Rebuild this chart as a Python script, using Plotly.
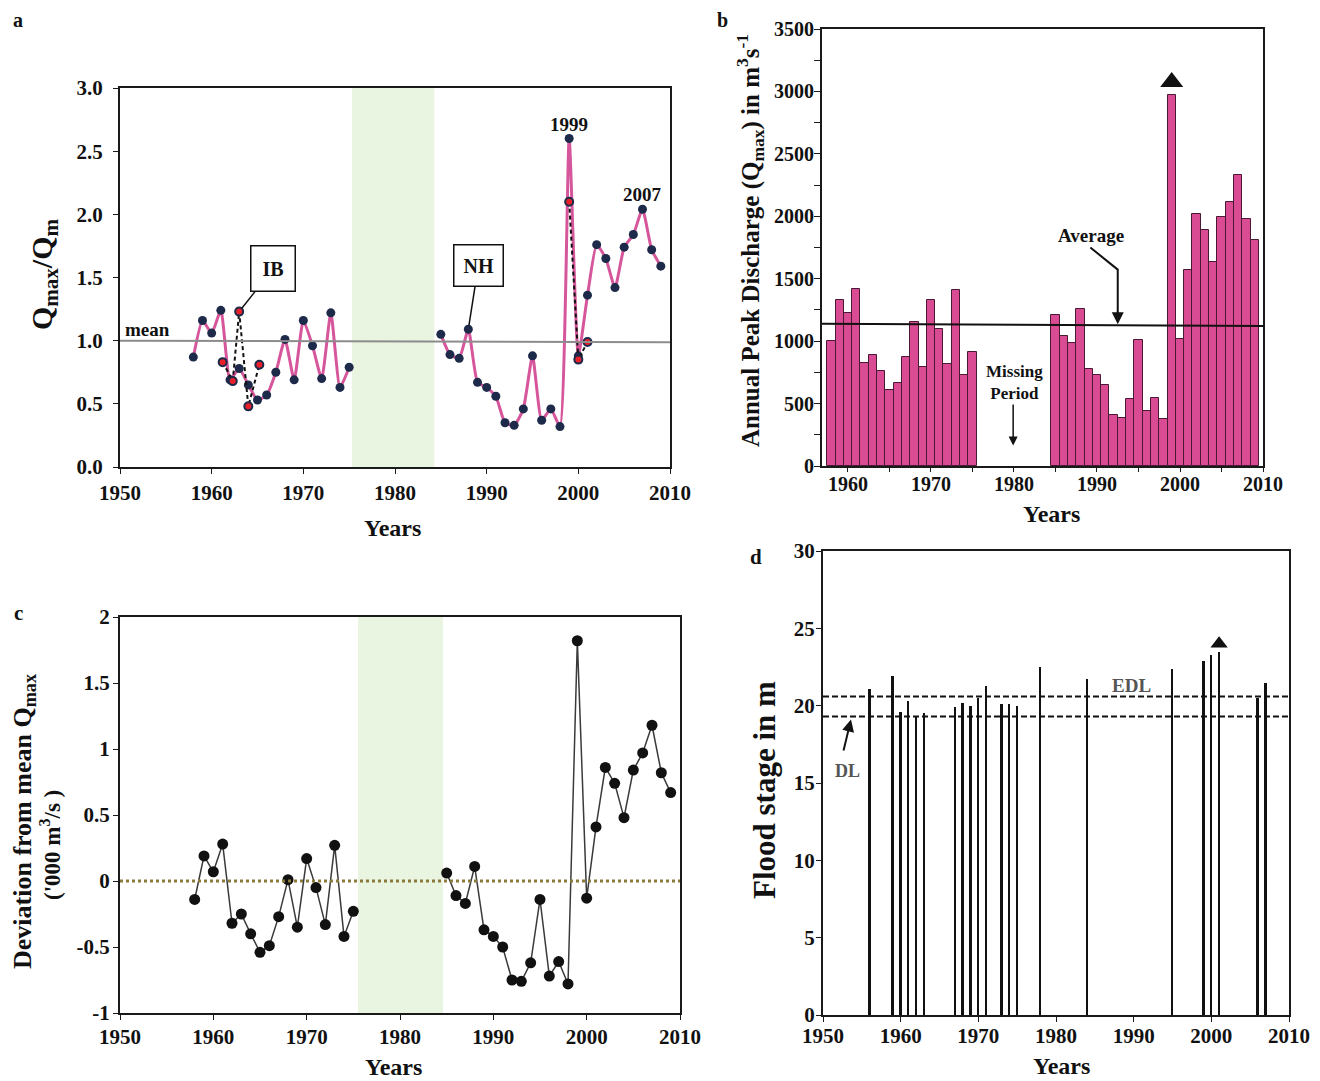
import plotly.graph_objects as go

W, H = 1320, 1081
OFF = 8  # page body margin offset
FONT = "Liberation Serif"

# ---------------- Panel a data ----------------
years_a1 = [1958, 1959, 1960, 1961, 1962, 1963, 1964, 1965, 1966, 1967, 1968,
            1969, 1970, 1971, 1972, 1973, 1974, 1975]
ratio_a1 = [0.87, 1.16, 1.06, 1.24, 0.69, 0.78, 0.65, 0.53, 0.57, 0.75, 1.01,
            0.69, 1.16, 0.96, 0.70, 1.22, 0.63, 0.79]
years_a2 = [1985, 1986, 1987, 1988, 1989, 1990, 1991, 1992, 1993, 1994, 1995,
            1996, 1997, 1998, 1999, 2000, 2001, 2002, 2003, 2004, 2005, 2006,
            2007, 2008, 2009]
ratio_a2 = [1.05, 0.89, 0.86, 1.09, 0.67, 0.63, 0.56, 0.35, 0.33, 0.46, 0.88,
            0.37, 0.46, 0.32, 2.60, 0.88, 1.36, 1.76, 1.65, 1.42, 1.74, 1.84,
            2.04, 1.72, 1.59]
alt_years_1 = [1961.2, 1962.3, 1963, 1964, 1965.2]
alt_ratio_1 = [0.83, 0.68, 1.23, 0.48, 0.81]
alt_years_2 = [1999, 2000, 2001]
alt_ratio_2 = [2.10, 0.85, 0.99]

# ---------------- Panel b data ----------------
years_b = [1958, 1959, 1960, 1961, 1962, 1963, 1964, 1965, 1966, 1967, 1968,
           1969, 1970, 1971, 1972, 1973, 1974, 1975,
           1985, 1986, 1987, 1988, 1989, 1990, 1991, 1992, 1993, 1994, 1995,
           1996, 1997, 1998, 1999, 2000, 2001, 2002, 2003, 2004, 2005, 2006,
           2007, 2008, 2009]
qmax_b = [1003, 1332, 1223, 1418, 822, 891, 760, 607, 661, 870, 1153,
          795, 1330, 1097, 813, 1407, 728, 910,
          1207, 1038, 985, 1258, 779, 728, 648, 409, 385, 538, 1009,
          439, 543, 377, 2970, 1019, 1568, 2020, 1892, 1632, 1993, 2114,
          2330, 1980, 1814]
avg_b = [1140, 1122]  # average line (left end, right end)

# ---------------- Panel c data ----------------
years_c = [1958, 1959, 1960, 1961, 1962, 1963, 1964, 1965, 1966, 1967, 1968,
           1969, 1970, 1971, 1972, 1973, 1974, 1975, None,
           1985, 1986, 1987, 1988, 1989, 1990, 1991, 1992, 1993, 1994, 1995,
           1996, 1997, 1998, 1999, 2000, 2001, 2002, 2003, 2004, 2005, 2006,
           2007, 2008, 2009]
dev_c = [-0.14, 0.19, 0.07, 0.28, -0.32, -0.25, -0.40, -0.54, -0.49, -0.27, 0.01,
         -0.35, 0.17, -0.05, -0.33, 0.27, -0.42, -0.23, None,
         0.06, -0.11, -0.17, 0.11, -0.37, -0.42, -0.50, -0.75, -0.76, -0.62, -0.14,
         -0.72, -0.61, -0.78, 1.82, -0.13, 0.41, 0.86, 0.74, 0.48, 0.84, 0.97,
         1.18, 0.82, 0.67]

# ---------------- Panel d data ----------------
years_d = [1956, 1959, 1960, 1961, 1962, 1963, 1967, 1968, 1969, 1970, 1971,
           1973, 1974, 1975, 1978, 1984, 1995, 1999, 2000, 2001, 2006, 2007]
stage_d = [21.1, 21.9, 19.6, 20.3, 19.3, 19.5, 19.9, 20.2, 20.0, 20.5, 21.3,
           20.1, 20.1, 20.0, 22.5, 21.75, 22.4, 22.9, 23.3, 23.5, 20.5, 21.45]
EDL = 20.6
DL = 19.3

missing_period = [1975.3, 1984.3]

PINK = "#d6569b"
NAVY = "#1d2a4a"
BARPINK = "#d94c93"
GREEN = "#e9f4e1"


def px_x(p):
    return (p - OFF) / W


def px_y(p):
    return 1 - (p - OFF) / H


fig = go.Figure()

# ---- panel a ----
fig.add_trace(go.Scatter(
    x=years_a1 + [None] + years_a2, y=ratio_a1 + [None] + ratio_a2,
    mode="lines", line=dict(color=PINK, width=3, shape="spline", smoothing=0.5),
    connectgaps=False, xaxis="x", yaxis="y", showlegend=False, hoverinfo="skip"))
fig.add_trace(go.Scatter(
    x=years_a1 + years_a2, y=ratio_a1 + ratio_a2, mode="markers",
    marker=dict(color=NAVY, size=9), xaxis="x", yaxis="y", showlegend=False))
fig.add_trace(go.Scatter(
    x=alt_years_1 + [None] + alt_years_2, y=alt_ratio_1 + [None] + alt_ratio_2,
    mode="lines+markers", line=dict(color="#111", width=2, dash="4px,3px"),
    marker=dict(color="#e8202a", size=8, line=dict(color=NAVY, width=2)),
    connectgaps=False, xaxis="x", yaxis="y", showlegend=False))

# ---- panel b ----
fig.add_trace(go.Bar(
    x=years_b, y=qmax_b, width=1.0,
    marker=dict(color=BARPINK, line=dict(color="#4a1a35", width=1)),
    xaxis="x2", yaxis="y2", showlegend=False))
fig.add_trace(go.Scatter(
    x=[1999], y=[3075], mode="markers",
    marker=dict(symbol="triangle-up", size=20, color="#111"),
    xaxis="x2", yaxis="y2", showlegend=False))

# ---- panel c ----
fig.add_trace(go.Scatter(
    x=years_c, y=dev_c, mode="lines+markers", connectgaps=False,
    line=dict(color="#3a3a3a", width=1.5),
    marker=dict(color="#111", size=11),
    xaxis="x3", yaxis="y3", showlegend=False))

# ---- panel d ----
fig.add_trace(go.Bar(
    x=years_d, y=stage_d, width=0.25, marker=dict(color="#111", line=dict(width=0)),
    xaxis="x4", yaxis="y4", showlegend=False))
fig.add_trace(go.Scatter(
    x=[2001], y=[24.0], mode="markers",
    marker=dict(symbol="triangle-up", size=15, color="#111"),
    xaxis="x4", yaxis="y4", showlegend=False))


def tf(size):
    return dict(family=FONT, size=size, color="#111", weight="bold")


def axis(domain, rng, anchor, size=21, **kw):
    d = dict(domain=domain, range=rng, anchor=anchor, showgrid=False, zeroline=False,
             showline=True, linecolor="#1a1a1a", linewidth=2, mirror=True,
             ticks="outside", ticklen=5, tickcolor="#1a1a1a", tickfont=tf(size),
             automargin=False)
    d.update(kw)
    return d


shapes = []
# green bands
shapes.append(dict(type="rect", xref="x", yref="y domain", x0=missing_period[0],
                   x1=missing_period[1], y0=0, y1=1, fillcolor=GREEN,
                   line=dict(width=0), layer="below"))
shapes.append(dict(type="rect", xref="x3", yref="y3 domain", x0=1975.5, x1=1984.6,
                   y0=0, y1=1, fillcolor=GREEN, line=dict(width=0), layer="below"))
# mean line panel a
shapes.append(dict(type="line", xref="x", yref="y", x0=1950, x1=2010, y0=1.0, y1=0.987,
                   line=dict(color="#8c8c8c", width=2)))
# average line panel b
shapes.append(dict(type="line", xref="x2", yref="y2", x0=1956.87, x1=2010,
                   y0=avg_b[0], y1=avg_b[1], line=dict(color="#111", width=2)))
# average bent pointer
shapes.append(dict(type="path", xref="x2", yref="y2",
                   path="M 1989.2 1750 L 1992.5 1573 L 1992.5 1200",
                   line=dict(color="#111", width=2)))
# zero line panel c
shapes.append(dict(type="line", xref="x3", yref="y3", x0=1950, x1=2010, y0=0, y1=0,
                   line=dict(color="#8a7b3a", width=3, dash="dot")))
# EDL / DL panel d
for lv in [EDL, DL]:
    shapes.append(dict(type="line", xref="x4", yref="y4", x0=1950, x1=2010, y0=lv, y1=lv,
                       line=dict(color="#111", width=2, dash="6px,3px")))

ann = []


def txt(x, y, t, size, xref="paper", yref="paper", angle=0, color="#111", **kw):
    a = dict(x=x, y=y, xref=xref, yref=yref, text=t, showarrow=False, textangle=angle,
             font=dict(family=FONT, size=size, color=color, weight="bold"),
             xanchor="center", yanchor="middle")
    a.update(kw)
    ann.append(a)


# panel letters
txt(px_x(18), px_y(20), "a", 20)
txt(px_x(722), px_y(20), "b", 20)
txt(px_x(18), px_y(613), "c", 21)
txt(px_x(756), px_y(557), "d", 21)

# axis titles
txt(px_x(44), px_y(274), "Q<sub>max</sub>/Q<sub>m</sub>", 30, angle=-90)
txt(px_x(392), px_y(528), "Years", 24)
txt(px_x(750), px_y(241), "Annual Peak Discharge (Q<sub>max</sub>) in m<sup>3</sup>s<sup>-1</sup>", 25, angle=-90)
txt(px_x(1051), px_y(514), "Years", 24)
txt(px_x(24), px_y(822), "Deviation from mean Q<sub>max</sub>", 26, angle=-90)
txt(px_x(50), px_y(845), "('000 m<sup>3</sup>/s )", 23, angle=-90)
txt(px_x(393), px_y(1067), "Years", 24)
txt(px_x(764), px_y(790), "Flood stage in m", 31, angle=-90)
txt(px_x(1061), px_y(1066), "Years", 24)

# panel a labels
txt(1953.0, 1.09, "mean", 19, xref="x", yref="y")
txt(1998.96, 2.71, "1999", 19, xref="x", yref="y")
txt(2007.0, 2.16, "2007", 19, xref="x", yref="y")
for (xx, yy, t, axp, ayp, pad) in [(1963, 1.23, "IB", 34, -43, 11),
                                   (1988, 1.09, "NH", 10, -64, 9)]:
    ann.append(dict(x=xx, y=yy, xref="x", yref="y", text=t, showarrow=True,
                    arrowhead=0, arrowwidth=1.5, arrowcolor="#111", ax=axp, ay=ayp,
                    standoff=4, bordercolor="#111", borderwidth=1.5, borderpad=pad,
                    bgcolor="white", font=tf(20)))

# panel b labels
txt(1989.3, 1846, "Average", 19, xref="x2", yref="y2")
ann.append(dict(x=1992.5, y=1135, xref="x2", yref="y2", ax=1992.5, ay=1250,
                axref="x2", ayref="y2", showarrow=True, arrowhead=2, arrowsize=1.2,
                arrowwidth=2, arrowcolor="#111", text=""))
txt(1980.1, 666, "Missing<br>Period", 17, xref="x2", yref="y2")
ann.append(dict(x=1979.9, y=165, xref="x2", yref="y2", ax=1979.9, ay=505,
                axref="x2", ayref="y2", showarrow=True, arrowhead=2, arrowsize=1.2,
                arrowwidth=1.5, arrowcolor="#111", text=""))

# panel d labels
txt(1989.7, 21.3, "EDL", 19, xref="x4", yref="y4", color="#555")
txt(1953.1, 15.8, "DL", 18, xref="x4", yref="y4", color="#555")
ann.append(dict(x=1953.6, y=19.1, xref="x4", yref="y4", ax=1952.6, ay=17.0,
                axref="x4", ayref="y4", showarrow=True, arrowhead=2, arrowsize=1.2,
                arrowwidth=2, arrowcolor="#111", text=""))

fig.update_layout(
    width=W, height=H, margin=dict(l=0, r=0, t=0, b=0, autoexpand=False),
    paper_bgcolor="white", plot_bgcolor="white", bargap=0,
    xaxis=axis([px_x(120), px_x(670)], [1950, 2010], "y", dtick=10, tick0=1950,
               ticklabelstandoff=1),
    yaxis=axis([px_y(467), px_y(88)], [0, 3.0], "x", dtick=0.5, tickformat=".1f",
               ticklabelstandoff=6),
    xaxis2=axis([px_x(822), px_x(1263)], [1956.87, 2010], "y2", size=20, dtick=10,
                tick0=1960, ticklen=4, ticklabelstandoff=-5,
                minor=dict(dtick=5, ticks="outside", ticklen=4, tickcolor="#1a1a1a")),
    yaxis2=axis([px_y(466), px_y(29)], [0, 3500], "x2", size=20, dtick=500, ticklen=6,
                ticklabelstandoff=-4,
                minor=dict(dtick=250, ticks="outside", ticklen=6, tickcolor="#1a1a1a")),
    xaxis3=axis([px_x(120), px_x(680)], [1950, 2010], "y3", dtick=10, tick0=1950,
                ticklabelstandoff=-1),
    yaxis3=axis([px_y(1013), px_y(617)], [-1, 2], "x3",
                tickvals=[-1, -0.5, 0, 0.5, 1, 1.5, 2],
                ticktext=["-1", "-0.5", "0", "0.5", "1", "1.5", "2"], ticklabelstandoff=-1),
    xaxis4=axis([px_x(823), px_x(1289)], [1950, 2010], "y4", dtick=10, tick0=1950,
                ticklabelstandoff=-4),
    yaxis4=axis([px_y(1015), px_y(551)], [0, 30], "x4", dtick=5, ticklabelstandoff=-3),
    shapes=shapes, annotations=ann,
)

fig.write_html("out.html")
